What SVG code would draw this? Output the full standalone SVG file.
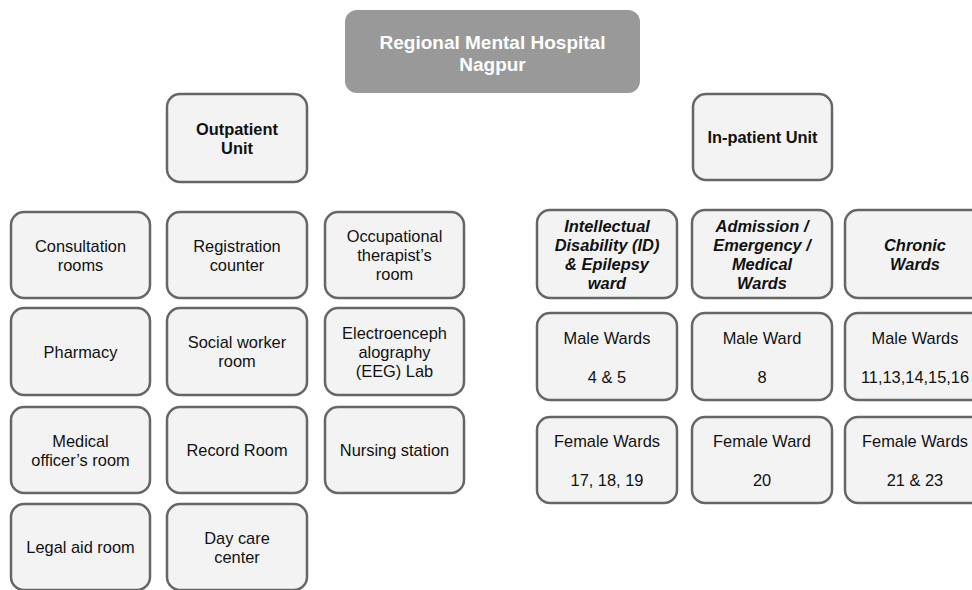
<svg xmlns="http://www.w3.org/2000/svg" width="972" height="590" viewBox="0 0 972 590">
<style>
.box{fill:#f3f3f3;stroke:#666666;stroke-width:2.5}
.top{fill:#999999;stroke:none}
text{font-family:"Liberation Sans",Arial,sans-serif;font-size:16.4px;fill:#111111;text-anchor:middle}
.b{font-weight:bold}
.bi{font-weight:bold;font-style:italic}
.w{fill:#ffffff;font-weight:bold;font-size:19px}
</style>
<rect width="972" height="590" fill="#ffffff"/>
<g id="connectors"/>
<g id="hospital">
<rect class="top" x="345" y="10" width="295" height="83" rx="12"/>
<text class="w" x="492.5" y="49">Regional Mental Hospital</text>
<text class="w" x="492.5" y="71">Nagpur</text>
</g>
<g id="outpatient">
<rect class="box" x="167" y="94" width="140" height="88" rx="13"/>
<text class="b" x="237" y="134.5">Outpatient</text>
<text class="b" x="237" y="153.5">Unit</text>
</g>
<g id="inpatient">
<rect class="box" x="693" y="94" width="139" height="86" rx="13"/>
<text class="b" x="762.5" y="143">In-patient Unit</text>
</g>
<g id="consultation">
<rect class="box" x="11" y="212" width="139" height="86" rx="13"/>
<text x="80.5" y="251.5">Consultation</text>
<text x="80.5" y="270.5">rooms</text>
</g>
<g id="registration">
<rect class="box" x="167" y="212" width="140" height="86" rx="13"/>
<text x="237" y="251.5">Registration</text>
<text x="237" y="270.5">counter</text>
</g>
<g id="occupational">
<rect class="box" x="325" y="212" width="139" height="86" rx="13"/>
<text x="394.5" y="241.5">Occupational</text>
<text x="394.5" y="260.5">therapist’s</text>
<text x="394.5" y="279.5">room</text>
</g>
<g id="pharmacy">
<rect class="box" x="11" y="308" width="139" height="87" rx="13"/>
<text x="80.5" y="357.5">Pharmacy</text>
</g>
<g id="social">
<rect class="box" x="167" y="308" width="140" height="87" rx="13"/>
<text x="237" y="348">Social worker</text>
<text x="237" y="367">room</text>
</g>
<g id="eeg">
<rect class="box" x="325" y="308" width="139" height="87" rx="13"/>
<text x="394.5" y="338.5">Electroenceph</text>
<text x="394.5" y="357.5">alography</text>
<text x="394.5" y="376.5">(EEG) Lab</text>
</g>
<g id="medical">
<rect class="box" x="11" y="407" width="139" height="86" rx="13"/>
<text x="80.5" y="446.5">Medical</text>
<text x="80.5" y="465.5">officer’s room</text>
</g>
<g id="record">
<rect class="box" x="167" y="407" width="140" height="86" rx="13"/>
<text x="237" y="456">Record Room</text>
</g>
<g id="nursing">
<rect class="box" x="325" y="407" width="139" height="86" rx="13"/>
<text x="394.5" y="456">Nursing station</text>
</g>
<g id="legal">
<rect class="box" x="11" y="504" width="139" height="86" rx="13"/>
<text x="80.5" y="553">Legal aid room</text>
</g>
<g id="daycare">
<rect class="box" x="167" y="504" width="140" height="86" rx="13"/>
<text x="237" y="543.5">Day care</text>
<text x="237" y="562.5">center</text>
</g>
<g id="id-ward">
<rect class="box" x="537" y="210" width="140" height="88" rx="13"/>
<text class="bi" x="607" y="231.5">Intellectual</text>
<text class="bi" x="607" y="250.5">Disability (ID)</text>
<text class="bi" x="607" y="269.5">&amp; Epilepsy</text>
<text class="bi" x="607" y="288.5">ward</text>
</g>
<g id="admission">
<rect class="box" x="692" y="210" width="140" height="88" rx="13"/>
<text class="bi" x="762" y="231.5">Admission /</text>
<text class="bi" x="762" y="250.5">Emergency /</text>
<text class="bi" x="762" y="269.5">Medical</text>
<text class="bi" x="762" y="288.5">Wards</text>
</g>
<g id="chronic">
<rect class="box" x="845" y="210" width="140" height="88" rx="13"/>
<text class="bi" x="915" y="250.5">Chronic</text>
<text class="bi" x="915" y="269.5">Wards</text>
</g>
<g id="id-male">
<rect class="box" x="537" y="313" width="140" height="87" rx="13"/>
<text x="607" y="344">Male Wards</text>
<text x="607" y="382.5">4 &amp; 5</text>
</g>
<g id="adm-male">
<rect class="box" x="692" y="313" width="140" height="87" rx="13"/>
<text x="762" y="344">Male Ward</text>
<text x="762" y="382.5">8</text>
</g>
<g id="chronic-male">
<rect class="box" x="845" y="313" width="140" height="87" rx="13"/>
<text x="915" y="344">Male Wards</text>
<text x="915" y="382.5">11,13,14,15,16</text>
</g>
<g id="id-female">
<rect class="box" x="537" y="417" width="140" height="86" rx="13"/>
<text x="607" y="447">Female Wards</text>
<text x="607" y="485.5">17, 18, 19</text>
</g>
<g id="adm-female">
<rect class="box" x="692" y="417" width="140" height="86" rx="13"/>
<text x="762" y="447">Female Ward</text>
<text x="762" y="485.5">20</text>
</g>
<g id="chronic-female">
<rect class="box" x="845" y="417" width="140" height="86" rx="13"/>
<text x="915" y="447">Female Wards</text>
<text x="915" y="485.5">21 &amp; 23</text>
</g>
</svg>
